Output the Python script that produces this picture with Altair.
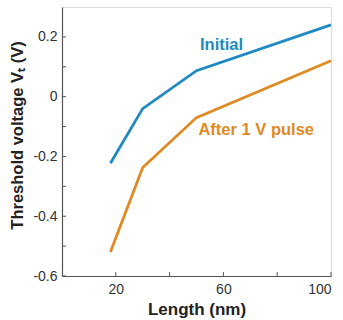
import altair as alt
import pandas as pd

length = [18, 30, 50, 100]
initial = [-0.223, -0.04, 0.087, 0.24]
after_pulse = [-0.52, -0.237, -0.07, 0.12]

series_names = ["Initial", "After 1 V pulse"]
series_colors = ["#1f8ac2", "#e08a24"]

y_label_values = [-0.6, -0.4, -0.2, 0, 0.2]
y_tick_values = [-0.6, -0.5, -0.4, -0.3, -0.2, -0.1, 0, 0.1, 0.2]
x_label_values = [20, 60, 100]
x_tick_values = [20, 40, 60, 80, 100]

# annotation anchors (data coords)
ann_x = [59.3, 72.2]
ann_y = [0.173, -0.11]

W, H = 269, 269

rows = []
for name, vals in zip(series_names, [initial, after_pulse]):
    for x, y in zip(length, vals):
        rows.append({"Length": x, "VT": y, "series": name})
df = pd.DataFrame(rows)

ann = pd.DataFrame({"x": ann_x, "y": ann_y, "label": series_names})

xs = alt.Scale(domain=[0, 100], nice=False, zero=False)
ys = alt.Scale(domain=[-0.6, 0.3], nice=False, zero=False)
cs = alt.Scale(domain=series_names, range=series_colors)

lines = alt.Chart(df).mark_line(strokeWidth=2.8).encode(
    x=alt.X("Length:Q", scale=xs, axis=alt.Axis(
        values=x_label_values, title="Length (nm)", tickSize=0, grid=False,
        labelFont="Liberation Sans", labelFontSize=14, labelColor="#333",
        labelPadding=6, titleFont="Liberation Sans", titleFontSize=17,
        titleFontWeight="bold", titleColor="#222", titlePadding=5,
        domainColor="#555", domainWidth=1.2)),
    y=alt.Y("VT:Q", scale=ys, axis=alt.Axis(
        values=y_label_values, title="Threshold voltage Vₜ (V)", tickSize=0, grid=False,
        labelExpr="datum.value == 0 ? '0' : replace(format(datum.value, '.1f'), '−', '-')",
        labelFont="Liberation Sans", labelFontSize=14, labelColor="#333",
        labelPadding=5, titleFont="Liberation Sans", titleFontSize=16.5,
        titleFontWeight="bold", titleColor="#222", titlePadding=7,
        titleY=128, domainColor="#555", domainWidth=1.2)),
    color=alt.Color("series:N", scale=cs, legend=None),
    detail="series:N",
)

labels = alt.Chart(ann).mark_text(
    font="Liberation Sans", fontSize=16.5, fontWeight="bold", align="center", baseline="middle"
).encode(
    x=alt.X("x:Q", scale=xs),
    y=alt.Y("y:Q", scale=ys),
    text="label:N",
    color=alt.Color("label:N", scale=cs, legend=None),
)

yt = alt.Chart(pd.DataFrame({"v": y_tick_values})).mark_rule(color="#555", strokeWidth=1).encode(
    y=alt.Y("v:Q", scale=ys), x=alt.value(0), x2=alt.value(4)
)
xt = alt.Chart(pd.DataFrame({"v": x_tick_values})).mark_rule(color="#555", strokeWidth=1).encode(
    x=alt.X("v:Q", scale=xs), y=alt.value(H), y2=alt.value(H - 4)
)

chart = alt.layer(lines, labels, yt, xt).properties(
    width=W, height=H,
    autosize=alt.AutoSizeParams(type="none"),
    padding={"left": 62, "top": 7, "right": 12, "bottom": 44},
).configure_view(stroke="#888", strokeWidth=1).configure(background="white")

chart.save("out.html", embed_options={"renderer": "svg", "actions": False})
